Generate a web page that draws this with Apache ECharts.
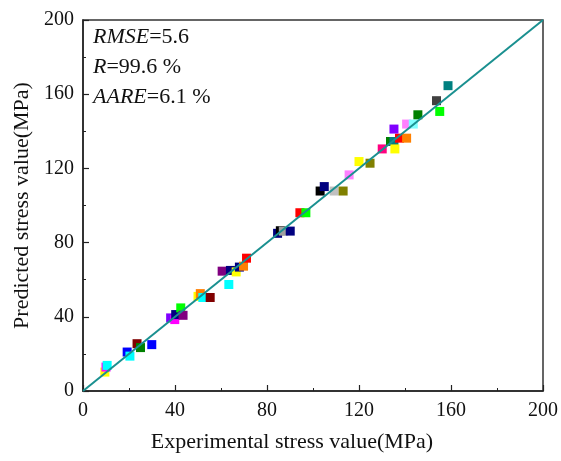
<!DOCTYPE html>
<html>
<head>
<meta charset="utf-8">
<script src="https://cdn.jsdelivr.net/npm/echarts@6/dist/echarts.min.js"></script>
<style>
  html, body { margin: 0; padding: 0; background: #fff; }
  #main { width: 561px; height: 461px; }
</style>
</head>
<body>
<div id="main"></div>
<script>
// experimental vs predicted stress values (MPa)
const expValues = [9.5, 10, 10.5, 19.2, 20.4, 23.5, 25, 29.9,
  38.1, 39.9, 40.3, 42.5, 43.5, 50, 51, 52.1, 55.3, 63.4,
  60.5, 64.1, 66.6, 68, 69.8, 71.1,
  84.6, 85.8, 87.1, 90.1, 94.3, 96.9,
  103.1, 104.9, 109.2, 113.1, 115.7, 120, 124.8,
  130.1, 133.7, 135.2, 135.6, 137.6, 140.7, 135.2, 140.7, 143.6, 145.6, 155.1, 153.7, 158.7]
const predValues = [10.2, 12.9, 13.8, 21, 18.8, 25.5, 23.4, 25,
  39.4, 38.5, 41.2, 44.8, 40.8, 51, 52.5, 50.4, 50.4, 57.4,
  64.6, 65, 64.2, 66.8, 67.3, 71.6,
  85, 86.4, 86.2, 86.2, 96.1, 96.1,
  107.8, 110.2, 107.8, 107.8, 116.5, 123.7, 122.8,
  130.5, 134.5, 134.5, 130.5, 136.3, 136.3, 141.2, 143.9, 143.9, 148.9, 150.7, 156.5, 164.6]
const pointColors = ['#ffff00', '#ff00ff', '#00ffff', '#0000ff', '#00ffff', '#800000', '#008000', '#0000ff',
  '#8000ff', '#ff00ff', '#000080', '#00ff00', '#800080', '#ffff00', '#ff8000', '#00ffff', '#800000', '#00ffff',
  '#800080', '#000080', '#ffff00', '#000080', '#ff8000', '#ff0000',
  '#000080', '#000000', '#a0a0a0', '#000080', '#ff0000', '#00ff00',
  '#000000', '#000080', '#c0c0c0', '#808000', '#ff80ff', '#ffff00', '#808000',
  '#ff0080', '#008000', '#008080', '#ffff00', '#ff0000', '#ff8000', '#8000ff', '#ff80ff', '#80ffff', '#008000', '#00ff00', '#404040', '#008080']

const xTicks = [0, 40, 80, 120, 160, 200]
const yTicks = [0, 40, 80, 120, 160, 200]
const fitLine = [[0, 0], [200, 200]]

const chart = echarts.init(document.getElementById('main'))

const points = expValues.map((x, i) => ({
  value: [x, predValues[i]],
  itemStyle: { color: pointColors[i], opacity: 1 }
}))

const font = 'Liberation Serif'

const axisCommon = {
  min: 0,
  max: 200,
  interval: 40,
  axisLine: { show: true, onZero: false, lineStyle: { color: '#222', width: 1.5 } },
  axisTick: { show: true, inside: true, length: 6, lineStyle: { color: '#222', width: 1.2 } },
  minorTick: { show: true, splitNumber: 2, length: 3, lineStyle: { color: '#222', width: 1 } },
  splitLine: { show: false },
  nameLocation: 'middle'
}

chart.setOption({
  animation: false,
  backgroundColor: '#fff',
  grid: {
    left: 83, right: 17, top: 20, bottom: 70,
    show: true, borderColor: '#333', borderWidth: 1.5
  },
  xAxis: Object.assign({}, axisCommon, {
    type: 'value',
    name: 'Experimental stress value(MPa)',
    nameGap: 40,
    nameTextStyle: { fontFamily: font, fontSize: 22, color: '#111', padding: [0, 42, 0, 0] },
    axisLabel: {
      fontFamily: font, fontSize: 20, color: '#111', margin: 10,
      formatter: v => xTicks.includes(v) ? String(v) : ''
    }
  }),
  yAxis: Object.assign({}, axisCommon, {
    type: 'value',
    name: 'Predicted stress value(MPa)',
    nameGap: 47,
    nameTextStyle: { fontFamily: font, fontSize: 22, color: '#111' },
    axisLabel: {
      fontFamily: font, fontSize: 20, color: '#111', margin: 9,
      formatter: v => yTicks.includes(v) ? String(v) : ''
    }
  }),
  series: [
    {
      type: 'line',
      data: fitLine,
      symbol: 'none',
      lineStyle: { color: '#1a9090', width: 2 },
      z: 3
    },
    {
      type: 'scatter',
      data: points,
      symbol: 'rect',
      symbolSize: 9,
      z: 2
    }
  ],
  graphic: [
    {
      type: 'text', left: 93, top: 22,
      style: {
        text: '{i|RMSE}=5.6\n{i|R}=99.6 %\n{i|AARE}=6.1 %',
        font: '22px "Liberation Serif"',
        fill: '#111',
        lineHeight: 30,
        rich: {
          i: { fontFamily: font, fontSize: 22, fontStyle: 'italic', fill: '#111', lineHeight: 30 }
        }
      }
    }
  ]
})
</script>
</body>
</html>
